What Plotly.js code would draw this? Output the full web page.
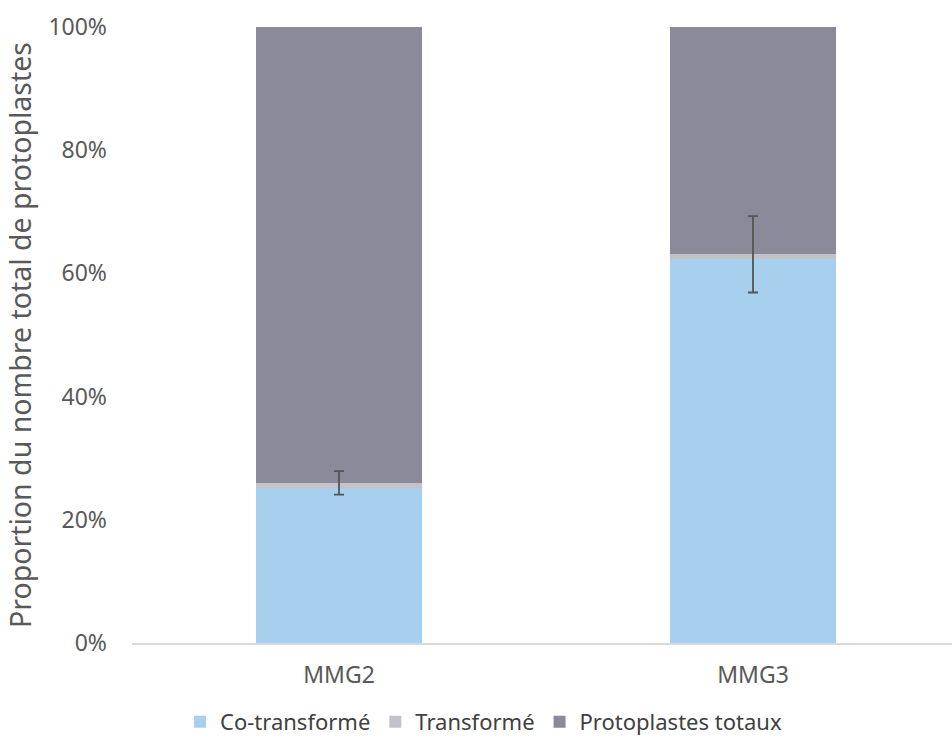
<!DOCTYPE html>
<html>
<head>
<meta charset="utf-8">
<script src="https://cdn.plot.ly/plotly-3.0.1.min.js"></script>
<style>html,body{margin:0;padding:0;background:#fff;}#chart{width:952px;height:738px;}</style>
</head>
<body>
<div id="chart"></div>
<script>
const categories = ["MMG2", "MMG3"];
const coTransforme = [0.251, 0.623];
const transforme = [0.009, 0.008];
const transformeErr = [0.019, 0.062];
const protoplastesTotaux = [0.740, 0.369];
const yTickVals = [0, 0.2, 0.4, 0.6, 0.8, 1.0];
const yTickText = ["0%", "20%", "40%", "60%", "80%", "100%"];

const font = "'Noto Sans', 'Open Sans', sans-serif";
const barWidth = 0.401;

// error bars belong to the "Transformé" stacked segment; drawn on top of all bars
const errCenters = categories.map((c, i) => coTransforme[i] + transforme[i]);

const traces = [
  {type: "bar", name: "Co-transformé", x: categories, y: coTransforme, width: barWidth,
   marker: {color: "#A7CFEE"}, hoverinfo: "skip"},
  {type: "bar", name: "Transformé", x: categories, y: transforme, width: barWidth,
   marker: {color: "#C2C2CA"}, hoverinfo: "skip"},
  {type: "bar", name: "Protoplastes totaux", x: categories, y: protoplastesTotaux, width: barWidth,
   marker: {color: "#8A8A9B"}, hoverinfo: "skip"},
  {type: "scatter", mode: "markers", x: categories, y: errCenters, showlegend: false,
   marker: {size: 1, color: "rgba(0,0,0,0)"}, hoverinfo: "skip",
   error_y: {type: "data", array: transformeErr, visible: true, color: "#555555", thickness: 1.8, width: 5}}
];

const layout = {
  width: 952, height: 738,
  margin: {l: 132, r: 0, t: 27, b: 95, autoexpand: false},
  barmode: "stack",
  paper_bgcolor: "#ffffff", plot_bgcolor: "#ffffff",
  font: {family: font, color: "#595959", size: 20},
  showlegend: true,
  legend: {orientation: "h", x: 0.4287, xanchor: "center", y: -0.128, yanchor: "middle",
           font: {size: 22, color: "#404040"}, traceorder: "normal", itemwidth: 30},
  xaxis: {type: "category", range: [-0.5, 1.4807], showgrid: false, showline: true,
          linecolor: "#D9D9D9", linewidth: 1.5, ticks: "", ticklabelstandoff: 11,
          tickfont: {size: 23, color: "#595959"}, zeroline: false},
  yaxis: {range: [0, 1], tickvals: yTickVals, ticktext: yTickText, showgrid: false,
          showline: false, zeroline: false, ticks: "", ticklabelstandoff: 24,
          tickfont: {size: 23, color: "#595959"},
          title: {text: "Proportion du nombre total de protoplastes", font: {size: 28.5, color: "#595959"}, standoff: 8}}
};

Plotly.newPlot("chart", traces, layout, {displayModeBar: false, staticPlot: true});
</script>
</body>
</html>
